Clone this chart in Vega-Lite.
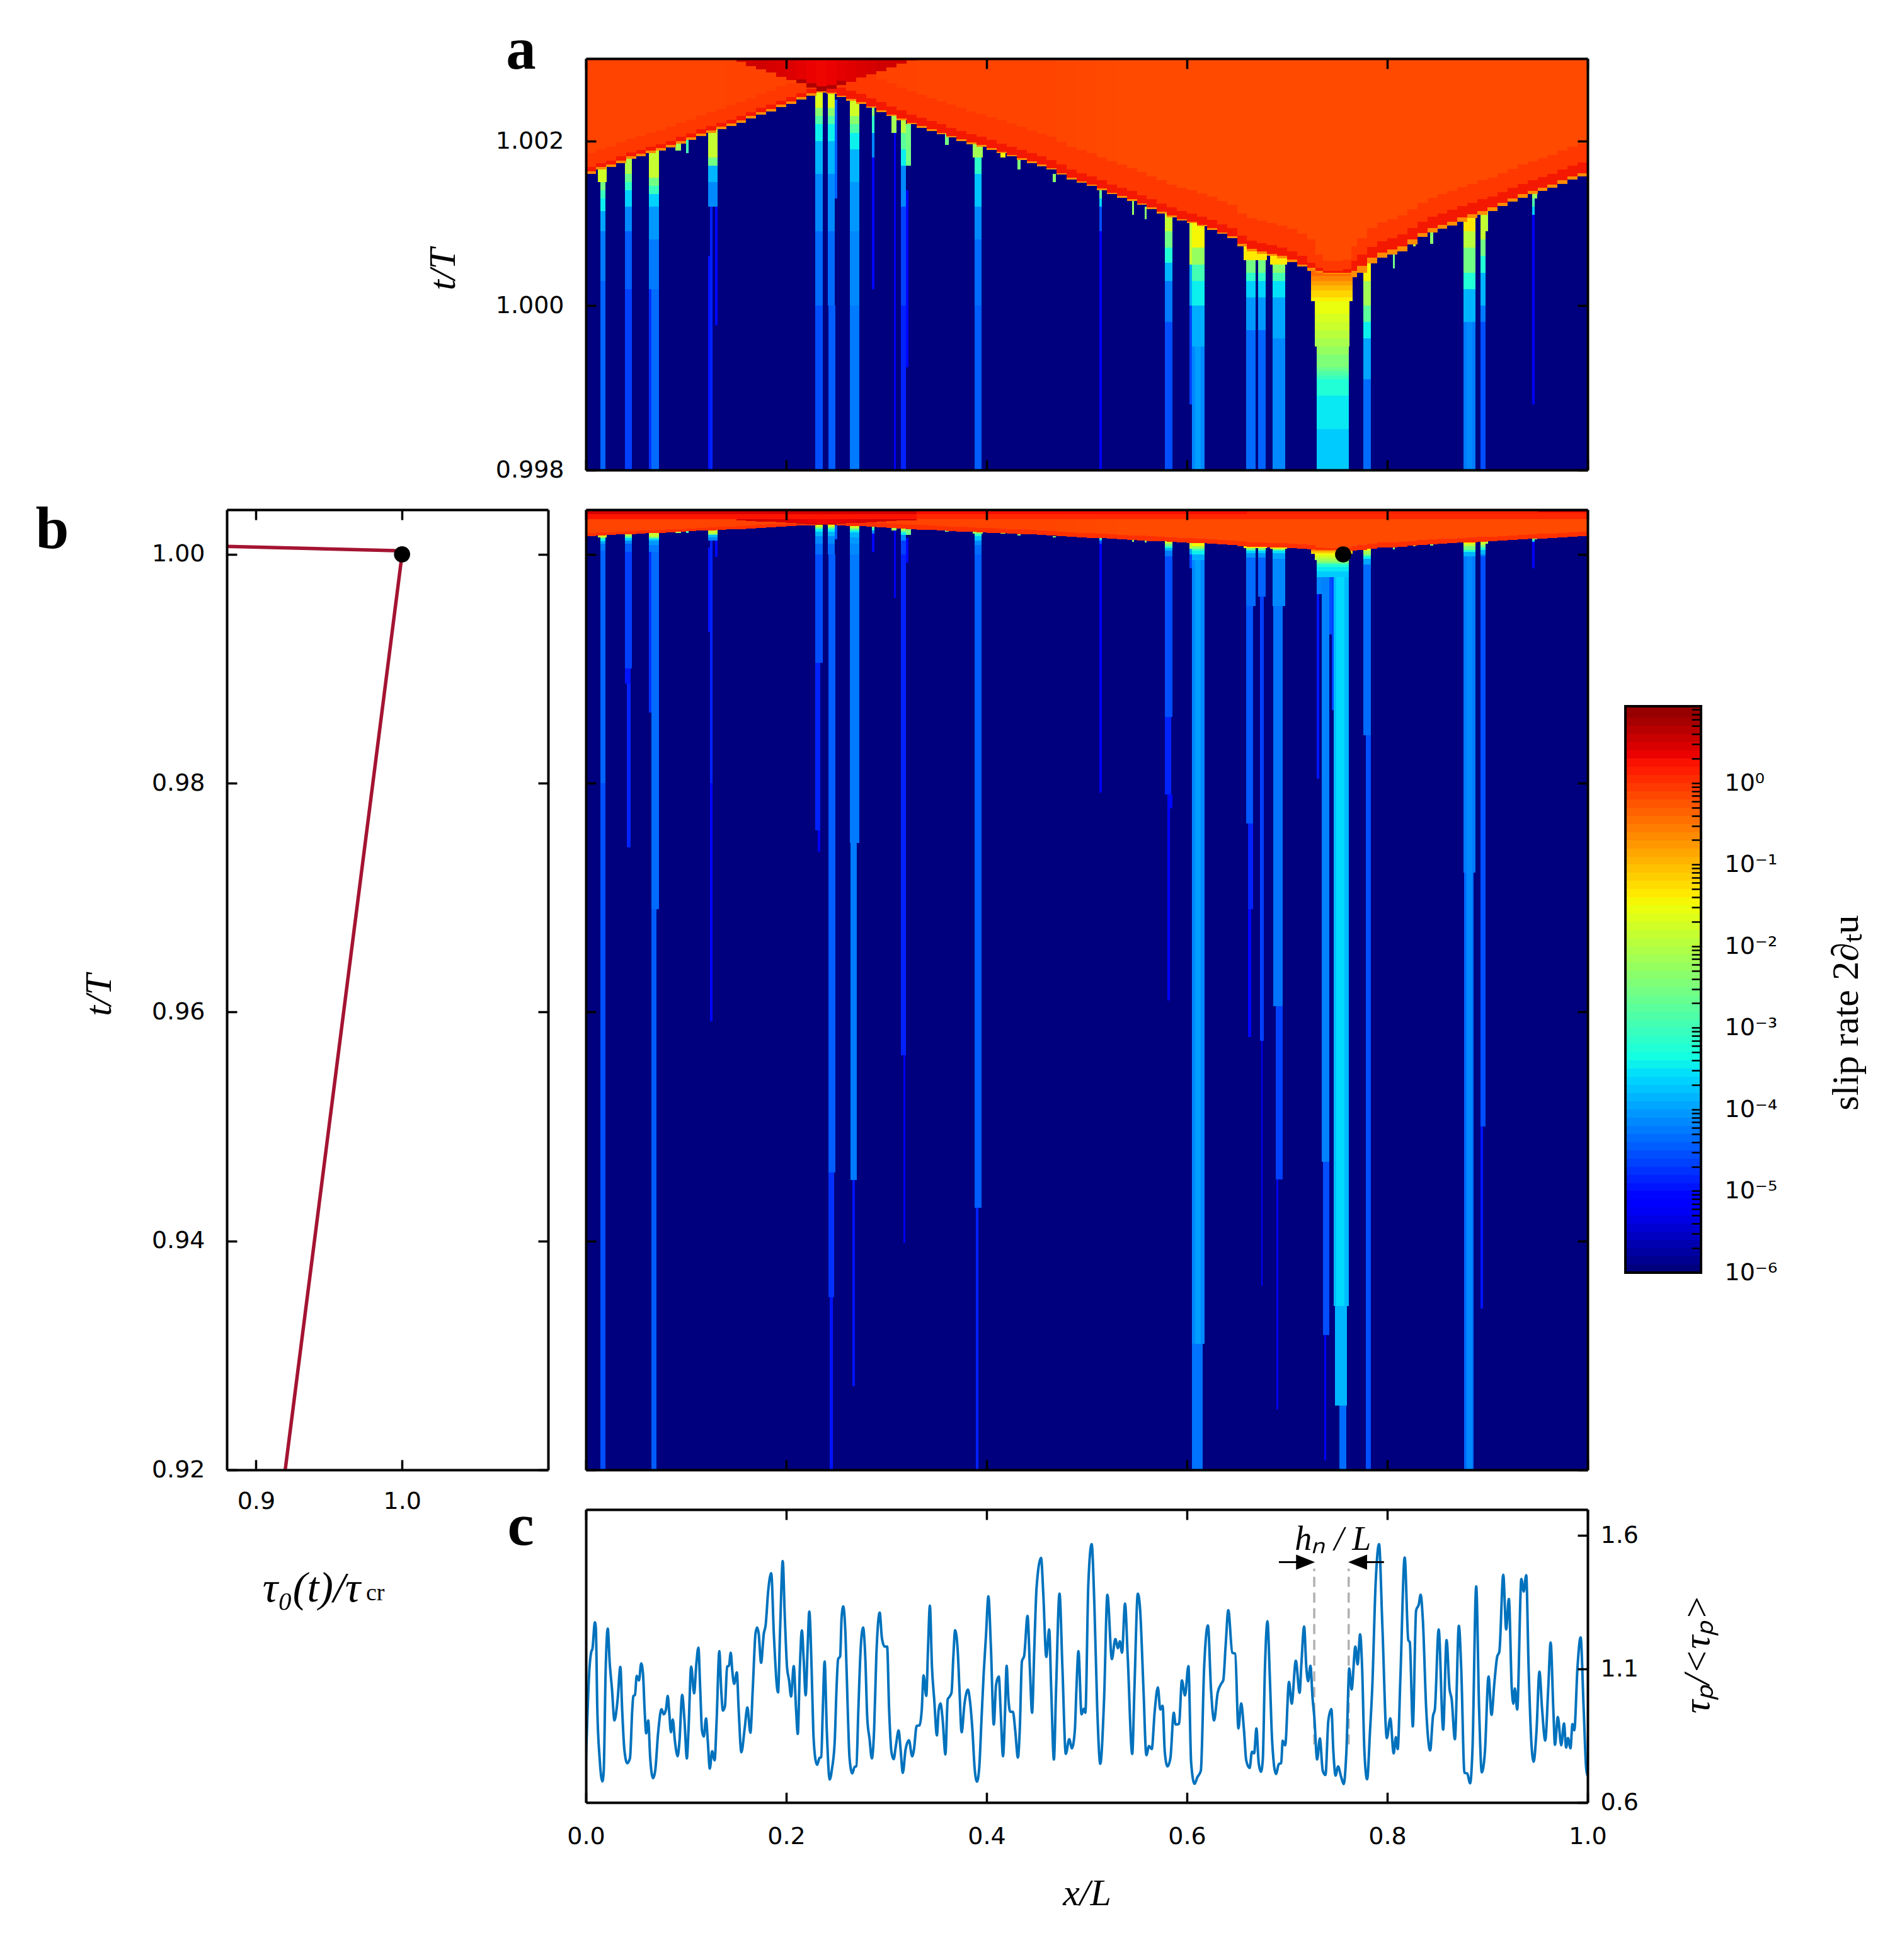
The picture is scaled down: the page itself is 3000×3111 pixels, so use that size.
{"$schema":"https://vega.github.io/schema/vega-lite/v6.json","padding":{"left":56,"top":33,"right":10,"bottom":10},"background":"white",
"config":{"view":{"stroke":null},"axis":{"grid":false,"domainColor":"black","domainWidth":4,"tickColor":"black","tickWidth":3.5,"tickSize":-16,"labelFont":"DejaVu Sans","labelFontSize":38,"labelColor":"black","labelOverlap":false,"labelFlush":false,"labelPadding":51,"titleFont":"Liberation Serif","titleFontSize":60,"titleFontWeight":"normal","titleColor":"black"}},
"datasets":{
"cells":[{"x":0,"x2":1,"t":0.92,"t2":1.0039,"v":-6},
{"x":0.0145,"x2":0.0195,"t":0.92,"t2":0.98,"v":-4.6},{"x":0.0145,"x2":0.0195,"t":0.98,"t2":1.0003,"v":-4.45},{"x":0.0145,"x2":0.0195,"t":1.0003,"t2":1.0009,"v":-4.3},{"x":0.0145,"x2":0.0195,"t":1.0009,"t2":1.00115,"v":-4},{"x":0.0145,"x2":0.0195,"t":1.00115,"t2":1.0013,"v":-3.5},{"x":0.0145,"x2":0.0195,"t":1.0013,"t2":1.0014,"v":-3.1},{"x":0.0145,"x2":0.0195,"t":1.0014,"t2":1.0015,"v":-2.6},{"x":0.0121,"x2":0.0209,"t":1.0015,"t2":1.0017,"v":-1.8},
{"x":0.041,"x2":0.0445,"t":0.9744,"t2":0.9887,"v":-4.9},{"x":0.039,"x2":0.0445,"t":0.9887,"t2":0.99,"v":-5},{"x":0.039,"x2":0.0458,"t":0.99,"t2":1.0002,"v":-4.7},{"x":0.039,"x2":0.0458,"t":1.0002,"t2":1.0009,"v":-4.5},{"x":0.039,"x2":0.0458,"t":1.0009,"t2":1.0012,"v":-4.2},{"x":0.039,"x2":0.0458,"t":1.0012,"t2":1.0014,"v":-3.7},{"x":0.039,"x2":0.0458,"t":1.0014,"t2":1.0015,"v":-3.2},{"x":0.039,"x2":0.0458,"t":1.0015,"t2":1.0016,"v":-2.7},{"x":0.039,"x2":0.0458,"t":1.0016,"t2":1.0019,"v":-2.1},
{"x":0.0653,"x2":0.0705,"t":0.92,"t2":0.969,"v":-4.5},{"x":0.0653,"x2":0.0731,"t":0.969,"t2":1.0002,"v":-4.4},{"x":0.063,"x2":0.0653,"t":0.9862,"t2":1.0002,"v":-4.8},{"x":0.063,"x2":0.0731,"t":1.0002,"t2":1.0008,"v":-4.3},{"x":0.063,"x2":0.0731,"t":1.0008,"t2":1.0012,"v":-4.1},{"x":0.063,"x2":0.0731,"t":1.0012,"t2":1.00135,"v":-3.7},{"x":0.063,"x2":0.0731,"t":1.00135,"t2":1.00145,"v":-3.1},{"x":0.063,"x2":0.0731,"t":1.00145,"t2":1.00155,"v":-2.6},{"x":0.063,"x2":0.0731,"t":1.00155,"t2":1.002,"v":-1.9},
{"x":0.089,"x2":0.095,"t":1.00188,"t2":1.002,"v":-2.2},{"x":0.1,"x2":0.1025,"t":1.00185,"t2":1.00205,"v":-3},
{"x":0.1241,"x2":0.1265,"t":0.9592,"t2":0.98,"v":-5.1},{"x":0.1241,"x2":0.1265,"t":0.98,"t2":1.0012,"v":-4.9},{"x":0.122,"x2":0.1241,"t":0.9932,"t2":1.0006,"v":-5},{"x":0.1291,"x2":0.1314,"t":0.99976,"t2":1.0012,"v":-5.1},{"x":0.122,"x2":0.1314,"t":1.0012,"t2":1.0015,"v":-4.2},{"x":0.122,"x2":0.1314,"t":1.0015,"t2":1.0017,"v":-3.9},{"x":0.122,"x2":0.1314,"t":1.0017,"t2":1.0018,"v":-2.6},{"x":0.122,"x2":0.1314,"t":1.0018,"t2":1.0022,"v":-1.9},
{"x":0.2315,"x2":0.2338,"t":0.974,"t2":0.9759,"v":-5.2},{"x":0.2288,"x2":0.2338,"t":0.9759,"t2":0.9905,"v":-4.9},{"x":0.2288,"x2":0.2365,"t":0.9905,"t2":1,"v":-4.6},{"x":0.2288,"x2":0.2365,"t":1,"t2":1.0009,"v":-4.4},{"x":0.2288,"x2":0.2365,"t":1.0009,"t2":1.0016,"v":-4.2},{"x":0.2288,"x2":0.2365,"t":1.0016,"t2":1.002,"v":-3.9},{"x":0.2288,"x2":0.2365,"t":1.002,"t2":1.0022,"v":-3.5},{"x":0.2288,"x2":0.2365,"t":1.0022,"t2":1.0023,"v":-2.9},{"x":0.2288,"x2":0.2365,"t":1.0023,"t2":1.0024,"v":-2.4},{"x":0.2288,"x2":0.2365,"t":1.0024,"t2":1.0027,"v":-1.7},
{"x":0.2435,"x2":0.2465,"t":0.92,"t2":0.9351,"v":-5},{"x":0.2424,"x2":0.248,"t":0.9351,"t2":0.946,"v":-4.8},{"x":0.2424,"x2":0.2489,"t":0.946,"t2":1,"v":-4.5},{"x":0.2416,"x2":0.2483,"t":1,"t2":1.0009,"v":-4.4},{"x":0.2483,"x2":0.251,"t":1.0013,"t2":1.0025,"v":-4.5},{"x":0.2416,"x2":0.2483,"t":1.0009,"t2":1.0016,"v":-4.2},{"x":0.2416,"x2":0.2483,"t":1.0016,"t2":1.002,"v":-3.9},{"x":0.2416,"x2":0.2483,"t":1.002,"t2":1.0022,"v":-3.5},{"x":0.2416,"x2":0.2483,"t":1.0022,"t2":1.0023,"v":-2.9},{"x":0.2416,"x2":0.2483,"t":1.0023,"t2":1.0024,"v":-2.4},{"x":0.2416,"x2":0.2483,"t":1.0024,"t2":1.0027,"v":-1.7},
{"x":0.266,"x2":0.2685,"t":0.9273,"t2":0.9453,"v":-5},{"x":0.264,"x2":0.2705,"t":0.9453,"t2":0.9748,"v":-4.3},{"x":0.2635,"x2":0.2729,"t":0.9748,"t2":1,"v":-4.3},{"x":0.2635,"x2":0.2729,"t":1,"t2":1.0009,"v":-4.2},{"x":0.2635,"x2":0.2729,"t":1.0009,"t2":1.0015,"v":-4.1},{"x":0.2635,"x2":0.2729,"t":1.0015,"t2":1.0019,"v":-3.9},{"x":0.2635,"x2":0.2729,"t":1.0019,"t2":1.0021,"v":-3.5},{"x":0.2635,"x2":0.2729,"t":1.0021,"t2":1.0022,"v":-2.9},{"x":0.2635,"x2":0.2729,"t":1.0022,"t2":1.0023,"v":-2.4},{"x":0.2635,"x2":0.2729,"t":1.0023,"t2":1.0026,"v":-1.8},
{"x":0.2854,"x2":0.2881,"t":1.0002,"t2":1.0018,"v":-5.1},{"x":0.2854,"x2":0.2881,"t":1.0018,"t2":1.0021,"v":-4.2},{"x":0.2854,"x2":0.2881,"t":1.0021,"t2":1.0023,"v":-3.2},{"x":0.2854,"x2":0.2881,"t":1.0023,"t2":1.0025,"v":-2.4},
{"x":0.3076,"x2":0.3093,"t":0.9962,"t2":1.0021,"v":-5.3},{"x":0.305,"x2":0.31,"t":1.0021,"t2":1.00235,"v":-2.2},
{"x":0.317,"x2":0.3186,"t":0.9398,"t2":0.9562,"v":-5.3},{"x":0.3143,"x2":0.3194,"t":0.9562,"t2":1,"v":-4.9},{"x":0.3143,"x2":0.3194,"t":1,"t2":1.0012,"v":-4.7},{"x":0.3143,"x2":0.3194,"t":1.0012,"t2":1.0017,"v":-4.2},{"x":0.3143,"x2":0.3194,"t":1.0017,"t2":1.0019,"v":-3.5},{"x":0.3143,"x2":0.3194,"t":1.0019,"t2":1.0021,"v":-2.8},{"x":0.3143,"x2":0.3194,"t":1.0021,"t2":1.0023,"v":-2},{"x":0.3194,"x2":0.322,"t":0.99925,"t2":1.0014,"v":-5.1},{"x":0.3194,"x2":0.3245,"t":1.0017,"t2":1.0022,"v":-2.6},
{"x":0.3585,"x2":0.362,"t":1.00195,"t2":1.0021,"v":-2.6},
{"x":0.389,"x2":0.392,"t":0.92,"t2":0.9429,"v":-4.9},{"x":0.3881,"x2":0.3949,"t":0.9429,"t2":1,"v":-4.5},{"x":0.3881,"x2":0.3949,"t":1,"t2":1.0008,"v":-4.4},{"x":0.3881,"x2":0.3949,"t":1.0008,"t2":1.0012,"v":-4.2},{"x":0.3881,"x2":0.3949,"t":1.0012,"t2":1.0016,"v":-3.8},{"x":0.3881,"x2":0.3949,"t":1.0016,"t2":1.0018,"v":-3.2},{"x":0.386,"x2":0.396,"t":1.0018,"t2":1.002,"v":-2.2},
{"x":0.414,"x2":0.419,"t":1.0018,"t2":1.0019,"v":-1.5},{"x":0.431,"x2":0.434,"t":1.00165,"t2":1.00178,"v":-2.5},{"x":0.466,"x2":0.469,"t":1.0015,"t2":1.0016,"v":-2.4},
{"x":0.5126,"x2":0.5149,"t":0.9792,"t2":1.0009,"v":-5.2},{"x":0.5126,"x2":0.5149,"t":1.0009,"t2":1.0012,"v":-4.6},{"x":0.5126,"x2":0.5149,"t":1.0012,"t2":1.0013,"v":-3.7},{"x":0.5126,"x2":0.5149,"t":1.0013,"t2":1.0014,"v":-2.7},
{"x":0.545,"x2":0.547,"t":1.0011,"t2":1.0013,"v":-2.3},{"x":0.558,"x2":0.56,"t":1.00105,"t2":1.0012,"v":-2.4},
{"x":0.5806,"x2":0.583,"t":0.961,"t2":0.9778,"v":-5.2},{"x":0.5806,"x2":0.5857,"t":0.9778,"t2":0.979,"v":-5.1},{"x":0.5779,"x2":0.584,"t":0.979,"t2":0.9858,"v":-4.9},{"x":0.5779,"x2":0.5857,"t":0.9858,"t2":0.9998,"v":-4.6},{"x":0.5779,"x2":0.5857,"t":0.9998,"t2":1.0003,"v":-4.3},{"x":0.5779,"x2":0.5857,"t":1.0003,"t2":1.00052,"v":-3.9},{"x":0.5779,"x2":0.5857,"t":1.00052,"t2":1.0007,"v":-3.3},{"x":0.5779,"x2":0.5857,"t":1.0007,"t2":1.0009,"v":-2.6},{"x":0.5779,"x2":0.5857,"t":1.0009,"t2":1.0012,"v":-1.9},
{"x":0.6048,"x2":0.6155,"t":0.92,"t2":0.931,"v":-4.35},{"x":0.6049,"x2":0.6173,"t":0.931,"t2":0.9995,"v":-4.2},{"x":0.608,"x2":0.614,"t":0.931,"t2":0.9995,"v":-4.05},{"x":0.6049,"x2":0.6177,"t":0.9995,"t2":1,"v":-3.95},{"x":0.6049,"x2":0.6177,"t":1,"t2":1.0003,"v":-3.5},{"x":0.6049,"x2":0.6177,"t":1.0003,"t2":1.0005,"v":-3},{"x":0.6049,"x2":0.6177,"t":1.0005,"t2":1.0007,"v":-2.3},{"x":0.6049,"x2":0.6177,"t":1.0007,"t2":1.0011,"v":-1.5},{"x":0.6025,"x2":0.6049,"t":0.9988,"t2":1,"v":-4.7},{"x":0.6025,"x2":0.6049,"t":1,"t2":1.0005,"v":-4},{"x":0.6025,"x2":0.6049,"t":1.0005,"t2":1.0011,"v":-1.9},
{"x":0.6611,"x2":0.664,"t":0.9578,"t2":0.969,"v":-5.1},{"x":0.6611,"x2":0.6662,"t":0.969,"t2":0.9765,"v":-4.9},{"x":0.6591,"x2":0.6662,"t":0.9765,"t2":0.9955,"v":-4.55},{"x":0.6591,"x2":0.6686,"t":0.9955,"t2":0.9997,"v":-4.4},{"x":0.6591,"x2":0.6686,"t":0.9997,"t2":1.0001,"v":-4.1},{"x":0.6591,"x2":0.6686,"t":1.0001,"t2":1.0003,"v":-3.7},{"x":0.6591,"x2":0.6686,"t":1.0003,"t2":1.0004,"v":-3.2},{"x":0.6591,"x2":0.6686,"t":1.0004,"t2":1.00055,"v":-2.6},{"x":0.6591,"x2":0.6686,"t":1.00055,"t2":1.0008,"v":-1.7},
{"x":0.674,"x2":0.6755,"t":0.9361,"t2":0.9575,"v":-5.2},{"x":0.6728,"x2":0.6767,"t":0.9575,"t2":0.9963,"v":-4.7},{"x":0.6709,"x2":0.6787,"t":0.9963,"t2":0.9997,"v":-4.45},{"x":0.6709,"x2":0.6787,"t":0.9997,"t2":1.0001,"v":-4.1},{"x":0.6709,"x2":0.6787,"t":1.0001,"t2":1.0003,"v":-3.7},{"x":0.6709,"x2":0.6787,"t":1.0003,"t2":1.0004,"v":-3.2},{"x":0.6709,"x2":0.6787,"t":1.0004,"t2":1.00055,"v":-2.6},{"x":0.6565,"x2":0.68,"t":1.00055,"t2":1.0008,"v":-1.4},
{"x":0.689,"x2":0.6915,"t":0.9253,"t2":0.9454,"v":-5.3},{"x":0.6885,"x2":0.6956,"t":0.9454,"t2":0.9605,"v":-4.7},{"x":0.686,"x2":0.6956,"t":0.9605,"t2":0.9955,"v":-4.35},{"x":0.6854,"x2":0.6982,"t":0.9955,"t2":0.9996,"v":-4.2},{"x":0.6854,"x2":0.6982,"t":0.9996,"t2":1.0001,"v":-4},{"x":0.6854,"x2":0.6982,"t":1.0001,"t2":1.0003,"v":-3.6},{"x":0.6854,"x2":0.6982,"t":1.0003,"t2":1.0004,"v":-3},{"x":0.6854,"x2":0.6982,"t":1.0004,"t2":1.0005,"v":-2.4},{"x":0.683,"x2":0.7,"t":1.0005,"t2":1.0008,"v":-1.4},
{"x":0.7522,"x2":0.7594,"t":0.92,"t2":0.9256,"v":-4.4},{"x":0.7475,"x2":0.76,"t":0.9256,"t2":0.9343,"v":-3.9},{"x":0.7464,"x2":0.7615,"t":0.9343,"t2":0.998,"v":-3.85},{"x":0.749,"x2":0.757,"t":0.9343,"t2":0.998,"v":-3.65},{"x":0.7372,"x2":0.739,"t":0.9208,"t2":0.9318,"v":-5.2},{"x":0.736,"x2":0.742,"t":0.9318,"t2":0.9469,"v":-4.6},{"x":0.7344,"x2":0.742,"t":0.9469,"t2":0.998,"v":-4.25},{"x":0.742,"x2":0.7445,"t":0.993,"t2":0.998,"v":-4.6},{"x":0.7445,"x2":0.7464,"t":0.9864,"t2":0.998,"v":-4.7},{"x":0.7296,"x2":0.7344,"t":0.9965,"t2":0.998,"v":-4.2},{"x":0.7296,"x2":0.732,"t":0.9804,"t2":0.9965,"v":-5},
{"x":0.7296,"x2":0.7615,"t":0.998,"t2":0.9985,"v":-3.75},{"x":0.7296,"x2":0.7615,"t":0.9985,"t2":0.9989,"v":-3.55},{"x":0.7296,"x2":0.7615,"t":0.9989,"t2":0.9991,"v":-3.3},{"x":0.7296,"x2":0.7615,"t":0.9991,"t2":0.99915,"v":-3.1},{"x":0.7296,"x2":0.7615,"t":0.99915,"t2":0.9992,"v":-2.9},{"x":0.7296,"x2":0.7615,"t":0.9992,"t2":0.99925,"v":-2.7},{"x":0.7296,"x2":0.7615,"t":0.99925,"t2":0.9994,"v":-2.5},{"x":0.7296,"x2":0.7615,"t":0.9994,"t2":0.9995,"v":-2.3},{"x":0.7275,"x2":0.7622,"t":0.9995,"t2":0.9996,"v":-2.15},{"x":0.7275,"x2":0.7622,"t":0.9996,"t2":0.9997,"v":-2},{"x":0.7275,"x2":0.7622,"t":0.9997,"t2":0.9998,"v":-1.85},{"x":0.7275,"x2":0.7622,"t":0.9998,"t2":0.9999,"v":-1.75},{"x":0.7275,"x2":0.7622,"t":0.9999,"t2":1.00005,"v":-1.6},{"x":0.7242,"x2":0.7656,"t":1.00005,"t2":1.0001,"v":-1.45},{"x":0.7242,"x2":0.7656,"t":1.0001,"t2":1.00018,"v":-1.25},{"x":0.7242,"x2":0.7656,"t":1.00018,"t2":1.00024,"v":-1.05},{"x":0.7242,"x2":0.7656,"t":1.00024,"t2":1.0003,"v":-0.85},{"x":0.7242,"x2":0.7656,"t":1.0003,"t2":1.00036,"v":-0.65},{"x":0.7242,"x2":0.7656,"t":1.00036,"t2":1.0005,"v":-0.45},
{"x":0.7785,"x2":0.7838,"t":0.92,"t2":0.9842,"v":-4.6},{"x":0.7761,"x2":0.7838,"t":0.9842,"t2":0.9991,"v":-4.4},{"x":0.7761,"x2":0.7838,"t":0.9991,"t2":0.9996,"v":-4},{"x":0.7761,"x2":0.7838,"t":0.9996,"t2":0.9998,"v":-3.5},{"x":0.7761,"x2":0.7838,"t":0.9998,"t2":1,"v":-2.8},{"x":0.7761,"x2":0.7838,"t":1,"t2":1.0003,"v":-2.2},{"x":0.7761,"x2":0.7838,"t":1.0003,"t2":1.0006,"v":-1.5},
{"x":0.8055,"x2":0.8075,"t":1.00045,"t2":1.0007,"v":-2.6},{"x":0.826,"x2":0.828,"t":1.00072,"t2":1.0009,"v":-2},{"x":0.8425,"x2":0.846,"t":1.00075,"t2":1.001,"v":-2.4},
{"x":0.8765,"x2":0.8862,"t":0.92,"t2":0.9722,"v":-4.4},{"x":0.8761,"x2":0.8879,"t":0.9722,"t2":0.9998,"v":-4.3},{"x":0.879,"x2":0.885,"t":0.92,"t2":0.9998,"v":-4.2},{"x":0.8761,"x2":0.8879,"t":0.9998,"t2":1.0002,"v":-3.9},{"x":0.8761,"x2":0.8879,"t":1.0002,"t2":1.0004,"v":-3.3},{"x":0.8761,"x2":0.8879,"t":1.0004,"t2":1.0007,"v":-2.6},{"x":0.8761,"x2":0.8879,"t":1.0007,"t2":1.0009,"v":-2},{"x":0.8761,"x2":0.8879,"t":1.0009,"t2":1.0012,"v":-1.4},
{"x":0.8929,"x2":0.8955,"t":0.9341,"t2":0.95,"v":-5},{"x":0.8929,"x2":0.8983,"t":0.95,"t2":0.9998,"v":-4.6},{"x":0.8929,"x2":0.8983,"t":0.9998,"t2":1,"v":-4.3},{"x":0.8929,"x2":0.8983,"t":1,"t2":1.0004,"v":-3.9},{"x":0.8929,"x2":0.8983,"t":1.0004,"t2":1.0006,"v":-3.3},{"x":0.8929,"x2":0.8983,"t":1.0006,"t2":1.0008,"v":-2.6},{"x":0.8929,"x2":0.8983,"t":1.0008,"t2":1.0012,"v":-1.9},{"x":0.8983,"x2":0.9005,"t":1.0009,"t2":1.0012,"v":-2},
{"x":0.9445,"x2":0.9472,"t":0.9988,"t2":1.0011,"v":-5.2},{"x":0.9445,"x2":0.9472,"t":1.0011,"t2":1.0012,"v":-3.7},{"x":0.9445,"x2":0.9472,"t":1.0012,"t2":1.0013,"v":-2.9},{"x":0.9445,"x2":0.9495,"t":1.0013,"t2":1.00145,"v":-2.3}],
"front":[{"x":0,"x2":0.01,"t":1.0016,"e":1.00163,"a":1.00168,"b":1.00185,"v":-0.17},{"x":0.01,"x2":0.02,"t":1.00165,"e":1.00168,"a":1.00173,"b":1.0019,"v":-0.17},{"x":0.02,"x2":0.03,"t":1.00168,"e":1.00171,"a":1.00176,"b":1.00193,"v":-0.17},{"x":0.03,"x2":0.04,"t":1.00173,"e":1.00176,"a":1.00181,"b":1.00198,"v":-0.17},{"x":0.04,"x2":0.05,"t":1.00178,"e":1.00181,"a":1.00186,"b":1.00203,"v":-0.17},{"x":0.05,"x2":0.06,"t":1.00181,"e":1.00184,"a":1.00189,"b":1.00206,"v":-0.17},{"x":0.06,"x2":0.07,"t":1.00185,"e":1.00188,"a":1.00193,"b":1.0021,"v":-0.17},{"x":0.07,"x2":0.08,"t":1.00188,"e":1.00191,"a":1.00196,"b":1.00213,"v":-0.17},{"x":0.08,"x2":0.09,"t":1.00192,"e":1.00195,"a":1.002,"b":1.00217,"v":-0.17},{"x":0.09,"x2":0.1,"t":1.00197,"e":1.002,"a":1.00205,"b":1.00222,"v":-0.17},{"x":0.1,"x2":0.11,"t":1.00201,"e":1.00204,"a":1.00209,"b":1.00226,"v":-0.17},{"x":0.11,"x2":0.12,"t":1.00206,"e":1.00209,"a":1.00214,"b":1.00231,"v":-0.17},{"x":0.12,"x2":0.13,"t":1.0021,"e":1.00213,"a":1.00218,"b":1.00235,"v":-0.17},{"x":0.13,"x2":0.14,"t":1.00214,"e":1.00217,"a":1.00222,"b":1.00239,"v":-0.17},{"x":0.14,"x2":0.15,"t":1.00218,"e":1.00221,"a":1.00226,"b":1.00243,"v":-0.16},{"x":0.15,"x2":0.16,"t":1.00222,"e":1.00225,"a":1.0023,"b":1.00247,"v":-0.16},{"x":0.16,"x2":0.17,"t":1.00227,"e":1.0023,"a":1.00235,"b":1.00252,"v":-0.16},{"x":0.17,"x2":0.18,"t":1.00232,"e":1.00235,"a":1.0024,"b":1.00257,"v":-0.16},{"x":0.18,"x2":0.19,"t":1.00236,"e":1.00239,"a":1.00244,"b":1.00261,"v":-0.16},{"x":0.19,"x2":0.2,"t":1.00241,"e":1.00244,"a":1.00249,"b":1.00266,"v":-0.16},{"x":0.2,"x2":0.21,"t":1.00245,"e":1.00248,"a":1.00253,"b":1.0027,"v":-0.16},{"x":0.21,"x2":0.22,"t":1.0025,"e":1.00253,"a":1.00258,"b":1.00275,"v":-0.16},{"x":0.22,"x2":0.23,"t":1.00255,"e":1.00258,"a":1.00263,"b":1.0028,"v":-0.16},{"x":0.23,"x2":0.24,"t":1.00259,"e":1.00262,"a":1.00267,"b":1.00284,"v":-0.16},{"x":0.24,"x2":0.25,"t":1.00257,"e":1.00259,"a":1.00269,"b":1.00297,"v":-0.16},{"x":0.25,"x2":0.26,"t":1.00253,"e":1.00255,"a":1.00265,"b":1.00293,"v":-0.16},{"x":0.26,"x2":0.27,"t":1.00249,"e":1.00251,"a":1.00261,"b":1.00289,"v":-0.16},{"x":0.27,"x2":0.28,"t":1.00245,"e":1.00247,"a":1.00257,"b":1.00285,"v":-0.16},{"x":0.28,"x2":0.29,"t":1.0024,"e":1.00242,"a":1.00252,"b":1.0028,"v":-0.16},{"x":0.29,"x2":0.3,"t":1.00235,"e":1.00237,"a":1.00247,"b":1.00275,"v":-0.16},{"x":0.3,"x2":0.31,"t":1.0023,"e":1.00232,"a":1.00242,"b":1.0027,"v":-0.16},{"x":0.31,"x2":0.32,"t":1.00225,"e":1.00227,"a":1.00237,"b":1.00265,"v":-0.16},{"x":0.32,"x2":0.33,"t":1.0022,"e":1.00222,"a":1.00232,"b":1.0026,"v":-0.16},{"x":0.33,"x2":0.34,"t":1.00216,"e":1.00218,"a":1.00228,"b":1.00256,"v":-0.18},{"x":0.34,"x2":0.35,"t":1.00212,"e":1.00214,"a":1.00224,"b":1.00252,"v":-0.18},{"x":0.35,"x2":0.36,"t":1.00208,"e":1.0021,"a":1.0022,"b":1.00248,"v":-0.18},{"x":0.36,"x2":0.37,"t":1.00204,"e":1.00206,"a":1.00216,"b":1.00244,"v":-0.18},{"x":0.37,"x2":0.38,"t":1.002,"e":1.00202,"a":1.00212,"b":1.0024,"v":-0.18},{"x":0.38,"x2":0.39,"t":1.00196,"e":1.00198,"a":1.00208,"b":1.00236,"v":-0.18},{"x":0.39,"x2":0.4,"t":1.00193,"e":1.00195,"a":1.00205,"b":1.00233,"v":-0.18},{"x":0.4,"x2":0.41,"t":1.00189,"e":1.00191,"a":1.00201,"b":1.00229,"v":-0.18},{"x":0.41,"x2":0.42,"t":1.00185,"e":1.00187,"a":1.00197,"b":1.00225,"v":-0.18},{"x":0.42,"x2":0.43,"t":1.00181,"e":1.00183,"a":1.00193,"b":1.00221,"v":-0.18},{"x":0.43,"x2":0.44,"t":1.00177,"e":1.00179,"a":1.00189,"b":1.00217,"v":-0.18},{"x":0.44,"x2":0.45,"t":1.00173,"e":1.00175,"a":1.00185,"b":1.00213,"v":-0.18},{"x":0.45,"x2":0.46,"t":1.00169,"e":1.00171,"a":1.00181,"b":1.00209,"v":-0.18},{"x":0.46,"x2":0.47,"t":1.00165,"e":1.00167,"a":1.00177,"b":1.00205,"v":-0.18},{"x":0.47,"x2":0.48,"t":1.00159,"e":1.00161,"a":1.00171,"b":1.00199,"v":-0.19},{"x":0.48,"x2":0.49,"t":1.00153,"e":1.00155,"a":1.00165,"b":1.00193,"v":-0.19},{"x":0.49,"x2":0.5,"t":1.00149,"e":1.00151,"a":1.00161,"b":1.00189,"v":-0.2},{"x":0.5,"x2":0.51,"t":1.00145,"e":1.00147,"a":1.00157,"b":1.00185,"v":-0.2},{"x":0.51,"x2":0.52,"t":1.0014,"e":1.00142,"a":1.00152,"b":1.0018,"v":-0.21},{"x":0.52,"x2":0.53,"t":1.00135,"e":1.00137,"a":1.00147,"b":1.00175,"v":-0.21},{"x":0.53,"x2":0.54,"t":1.00131,"e":1.00133,"a":1.00143,"b":1.00171,"v":-0.22},{"x":0.54,"x2":0.55,"t":1.00127,"e":1.00129,"a":1.00139,"b":1.00167,"v":-0.22},{"x":0.55,"x2":0.56,"t":1.00122,"e":1.00124,"a":1.00134,"b":1.00162,"v":-0.22},{"x":0.56,"x2":0.57,"t":1.00117,"e":1.00119,"a":1.00129,"b":1.00157,"v":-0.22},{"x":0.57,"x2":0.58,"t":1.00112,"e":1.00114,"a":1.00124,"b":1.00152,"v":-0.22},{"x":0.58,"x2":0.59,"t":1.00107,"e":1.00109,"a":1.00119,"b":1.00147,"v":-0.22},{"x":0.59,"x2":0.6,"t":1.00103,"e":1.00105,"a":1.00115,"b":1.00143,"v":-0.22},{"x":0.6,"x2":0.61,"t":1.001,"e":1.00102,"a":1.00112,"b":1.0014,"v":-0.22},{"x":0.61,"x2":0.62,"t":1.00096,"e":1.00098,"a":1.00108,"b":1.00136,"v":-0.22},{"x":0.62,"x2":0.63,"t":1.00092,"e":1.00094,"a":1.00104,"b":1.00132,"v":-0.22},{"x":0.63,"x2":0.64,"t":1.00087,"e":1.00089,"a":1.00099,"b":1.00127,"v":-0.22},{"x":0.64,"x2":0.65,"t":1.00082,"e":1.00084,"a":1.00094,"b":1.00122,"v":-0.22},{"x":0.65,"x2":0.66,"t":1.00072,"e":1.00075,"a":1.00085,"b":1.00112,"v":-0.22},{"x":0.66,"x2":0.67,"t":1.00066,"e":1.00069,"a":1.00079,"b":1.00106,"v":-0.22},{"x":0.67,"x2":0.68,"t":1.00063,"e":1.00066,"a":1.00076,"b":1.00103,"v":-0.22},{"x":0.68,"x2":0.69,"t":1.0006,"e":1.00063,"a":1.00073,"b":1.001,"v":-0.22},{"x":0.69,"x2":0.7,"t":1.00057,"e":1.0006,"a":1.0007,"b":1.00097,"v":-0.22},{"x":0.7,"x2":0.71,"t":1.00053,"e":1.00056,"a":1.00066,"b":1.00093,"v":-0.22},{"x":0.71,"x2":0.72,"t":1.00047,"e":1.0005,"a":1.0006,"b":1.00087,"v":-0.22},{"x":0.72,"x2":0.728,"t":1.00042,"e":1.00046,"a":1.00052,"b":1.0008,"v":-0.22},{"x":0.728,"x2":0.736,"t":1.0004,"e":1.00042,"a":1.00046,"b":1.00062,"v":-0.22},{"x":0.736,"x2":0.756,"t":1.00038,"e":1.0004,"a":1.00042,"b":1.00054,"v":-0.22},{"x":0.756,"x2":0.764,"t":1.00038,"e":1.0004,"a":1.00044,"b":1.00056,"v":-0.22},{"x":0.764,"x2":0.77,"t":1.00034,"e":1.00042,"a":1.00054,"b":1.00072,"v":-0.22},{"x":0.77,"x2":0.78,"t":1.0004,"e":1.00048,"a":1.00062,"b":1.00082,"v":-0.22},{"x":0.78,"x2":0.79,"t":1.00051,"e":1.00058,"a":1.00071,"b":1.00094,"v":-0.22},{"x":0.79,"x2":0.8,"t":1.00058,"e":1.00064,"a":1.00078,"b":1.00101,"v":-0.22},{"x":0.8,"x2":0.81,"t":1.00062,"e":1.00068,"a":1.00082,"b":1.00105,"v":-0.22},{"x":0.81,"x2":0.82,"t":1.00066,"e":1.00072,"a":1.00086,"b":1.00109,"v":-0.22},{"x":0.82,"x2":0.83,"t":1.00074,"e":1.0008,"a":1.00094,"b":1.00117,"v":-0.22},{"x":0.83,"x2":0.84,"t":1.00083,"e":1.00088,"a":1.00102,"b":1.00125,"v":-0.22},{"x":0.84,"x2":0.85,"t":1.00089,"e":1.00094,"a":1.00108,"b":1.00131,"v":-0.22},{"x":0.85,"x2":0.86,"t":1.00093,"e":1.00098,"a":1.00112,"b":1.00135,"v":-0.22},{"x":0.86,"x2":0.87,"t":1.00097,"e":1.00102,"a":1.00116,"b":1.00139,"v":-0.22},{"x":0.87,"x2":0.88,"t":1.00102,"e":1.00107,"a":1.00121,"b":1.00144,"v":-0.22},{"x":0.88,"x2":0.89,"t":1.00106,"e":1.00111,"a":1.00125,"b":1.00148,"v":-0.22},{"x":0.89,"x2":0.9,"t":1.0011,"e":1.00115,"a":1.00129,"b":1.00152,"v":-0.22},{"x":0.9,"x2":0.91,"t":1.00115,"e":1.00119,"a":1.00132,"b":1.00155,"v":-0.22},{"x":0.91,"x2":0.92,"t":1.00121,"e":1.00125,"a":1.00138,"b":1.00161,"v":-0.22},{"x":0.92,"x2":0.93,"t":1.00126,"e":1.0013,"a":1.00143,"b":1.00166,"v":-0.22},{"x":0.93,"x2":0.94,"t":1.00131,"e":1.00135,"a":1.00148,"b":1.00171,"v":-0.22},{"x":0.94,"x2":0.95,"t":1.00135,"e":1.00139,"a":1.00152,"b":1.00175,"v":-0.22},{"x":0.95,"x2":0.96,"t":1.00139,"e":1.00143,"a":1.00156,"b":1.00179,"v":-0.22},{"x":0.96,"x2":0.97,"t":1.00143,"e":1.00147,"a":1.0016,"b":1.00183,"v":-0.22},{"x":0.97,"x2":0.98,"t":1.00148,"e":1.00152,"a":1.00165,"b":1.00188,"v":-0.22},{"x":0.98,"x2":0.99,"t":1.00153,"e":1.00157,"a":1.0017,"b":1.00193,"v":-0.22},{"x":0.99,"x2":1,"t":1.00157,"e":1.00161,"a":1.00174,"b":1.00197,"v":-0.22}],
"over":[{"x":0.15,"x2":0.16,"t":1.00296,"t2":1.0031,"v":0.45},{"x":0.16,"x2":0.17,"t":1.00291,"t2":1.0031,"v":0.45},{"x":0.17,"x2":0.18,"t":1.00287,"t2":1.0031,"v":0.45},{"x":0.18,"x2":0.19,"t":1.00283,"t2":1.0031,"v":0.42},{"x":0.19,"x2":0.2,"t":1.00278,"t2":1.0031,"v":0.4},{"x":0.2,"x2":0.21,"t":1.00274,"t2":1.0031,"v":0.38},{"x":0.21,"x2":0.22,"t":1.0027,"t2":1.0031,"v":0.33},{"x":0.22,"x2":0.23,"t":1.00265,"t2":1.0031,"v":0.3},{"x":0.23,"x2":0.24,"t":1.0026,"t2":1.0031,"v":0.28},{"x":0.24,"x2":0.25,"t":1.00263,"t2":1.0031,"v":0.3},{"x":0.25,"x2":0.26,"t":1.00268,"t2":1.0031,"v":0.33},{"x":0.26,"x2":0.27,"t":1.00272,"t2":1.0031,"v":0.36},{"x":0.27,"x2":0.28,"t":1.00277,"t2":1.0031,"v":0.4},{"x":0.28,"x2":0.29,"t":1.00281,"t2":1.0031,"v":0.42},{"x":0.29,"x2":0.3,"t":1.00285,"t2":1.0031,"v":0.45},{"x":0.3,"x2":0.31,"t":1.00289,"t2":1.0031,"v":0.45},{"x":0.31,"x2":0.32,"t":1.00294,"t2":1.0031,"v":0.45},{"x":0.32,"x2":0.33,"t":1.00298,"t2":1.0031,"v":0.45},
{"x":0.21,"x2":0.22,"t":1.0027,"t2":1.00275,"v":0.65},{"x":0.22,"x2":0.23,"t":1.00265,"t2":1.0027,"v":0.65},{"x":0.23,"x2":0.24,"t":1.0026,"t2":1.00266,"v":0.7},{"x":0.24,"x2":0.25,"t":1.00263,"t2":1.00268,"v":0.65},{"x":0.25,"x2":0.26,"t":1.00268,"t2":1.00273,"v":0.6},
{"x":0,"x2":0.33,"t":1.0035,"t2":1.0039,"v":0.42},{"x":0.33,"x2":0.66,"t":1.0035,"t2":1.0039,"v":0.22},{"x":0.66,"x2":1,"t":1.0035,"t2":1.0039,"v":0.08},{"x":0,"x2":0.33,"t":1.0031,"t2":1.0035,"v":0.18},{"x":0.33,"x2":1,"t":1.00305,"t2":1.0035,"v":0.03},{"x":0.95,"x2":1,"t":1.0037,"t2":1.0039,"v":0.42}],
"tau":[{"x":0,"v":0.75},{"x":0.0036,"v":1.106},{"x":0.0054,"v":1.165},{"x":0.0065,"v":1.175},{"x":0.009,"v":1.275},{"x":0.0099,"v":1.255},{"x":0.0114,"v":0.948},{"x":0.0137,"v":0.766},{"x":0.0164,"v":0.679},{"x":0.0177,"v":0.711},{"x":0.0198,"v":1.106},{"x":0.0218,"v":1.251},{"x":0.0238,"v":1.121},{"x":0.026,"v":1.027},{"x":0.0285,"v":0.907},{"x":0.0317,"v":0.987},{"x":0.0344,"v":1.108},{"x":0.0362,"v":0.948},{"x":0.0384,"v":0.798},{"x":0.0413,"v":0.747},{"x":0.044,"v":0.766},{"x":0.0463,"v":0.948},{"x":0.0474,"v":0.999},{"x":0.049,"v":1.003},{"x":0.0507,"v":1.074},{"x":0.053,"v":1.057},{"x":0.0552,"v":1.121},{"x":0.057,"v":1.082},{"x":0.0586,"v":0.948},{"x":0.0602,"v":0.859},{"x":0.0622,"v":0.907},{"x":0.0642,"v":0.766},{"x":0.0671,"v":0.691},{"x":0.0692,"v":0.719},{"x":0.0721,"v":0.861},{"x":0.0755,"v":0.949},{"x":0.0777,"v":0.93},{"x":0.0799,"v":0.948},{"x":0.0817,"v":0.999},{"x":0.0833,"v":0.932},{"x":0.0849,"v":0.863},{"x":0.0867,"v":0.911},{"x":0.0889,"v":0.829},{"x":0.0916,"v":0.773},{"x":0.0934,"v":0.829},{"x":0.0961,"v":1.003},{"x":0.0984,"v":0.908},{"x":0.1008,"v":0.765},{"x":0.1024,"v":0.869},{"x":0.1051,"v":1.109},{"x":0.108,"v":1.009},{"x":0.1103,"v":1.121},{"x":0.1123,"v":1.18},{"x":0.1141,"v":1.027},{"x":0.1159,"v":0.869},{"x":0.1177,"v":0.847},{"x":0.1199,"v":0.915},{"x":0.1217,"v":0.829},{"x":0.1237,"v":0.727},{"x":0.126,"v":0.792},{"x":0.1285,"v":0.758},{"x":0.1305,"v":0.908},{"x":0.1332,"v":1.167},{"x":0.135,"v":1.027},{"x":0.1368,"v":0.944},{"x":0.1388,"v":0.96},{"x":0.141,"v":1.109},{"x":0.1428,"v":1.112},{"x":0.1446,"v":1.161},{"x":0.1462,"v":1.09},{"x":0.148,"v":1.044},{"x":0.1507,"v":1.087},{"x":0.1525,"v":0.948},{"x":0.1552,"v":0.788},{"x":0.1585,"v":0.877},{"x":0.1612,"v":0.956},{"x":0.1642,"v":0.861},{"x":0.1666,"v":1.027},{"x":0.1693,"v":1.232},{"x":0.1709,"v":1.255},{"x":0.1725,"v":1.232},{"x":0.1749,"v":1.123},{"x":0.1776,"v":1.232},{"x":0.1794,"v":1.263},{"x":0.1821,"v":1.397},{"x":0.185,"v":1.459},{"x":0.1877,"v":1.224},{"x":0.1918,"v":1.012},{"x":0.194,"v":1.263},{"x":0.1965,"v":1.504},{"x":0.1985,"v":1.303},{"x":0.2008,"v":1.106},{"x":0.2028,"v":1.058},{"x":0.2048,"v":0.997},{"x":0.2075,"v":1.111},{"x":0.2098,"v":0.948},{"x":0.2115,"v":0.857},{"x":0.2136,"v":1.106},{"x":0.2156,"v":1.244},{"x":0.2174,"v":1.137},{"x":0.2194,"v":1.001},{"x":0.2214,"v":1.184},{"x":0.223,"v":1.315},{"x":0.2253,"v":1.106},{"x":0.227,"v":0.869},{"x":0.2293,"v":0.758},{"x":0.2309,"v":0.741},{"x":0.2331,"v":0.766},{"x":0.2349,"v":0.77},{"x":0.2365,"v":0.948},{"x":0.2383,"v":1.128},{"x":0.2405,"v":0.869},{"x":0.2434,"v":0.686},{"x":0.2457,"v":0.727},{"x":0.2484,"v":0.829},{"x":0.2502,"v":1.027},{"x":0.2518,"v":1.137},{"x":0.2538,"v":1.147},{"x":0.2553,"v":1.295},{"x":0.2569,"v":1.334},{"x":0.2592,"v":1.224},{"x":0.2614,"v":0.948},{"x":0.2632,"v":0.766},{"x":0.2659,"v":0.709},{"x":0.2682,"v":0.733},{"x":0.27,"v":0.736},{"x":0.272,"v":0.948},{"x":0.2742,"v":1.169},{"x":0.2767,"v":1.255},{"x":0.2789,"v":1.145},{"x":0.2809,"v":0.915},{"x":0.2832,"v":0.837},{"x":0.2854,"v":0.765},{"x":0.2877,"v":0.869},{"x":0.2899,"v":1.145},{"x":0.2933,"v":1.311},{"x":0.2955,"v":1.216},{"x":0.2982,"v":1.184},{"x":0.3007,"v":1.184},{"x":0.3027,"v":0.948},{"x":0.305,"v":0.79},{"x":0.3072,"v":0.762},{"x":0.3095,"v":0.814},{"x":0.3122,"v":0.87},{"x":0.314,"v":0.806},{"x":0.3164,"v":0.711},{"x":0.3191,"v":0.798},{"x":0.3225,"v":0.833},{"x":0.3257,"v":0.773},{"x":0.3275,"v":0.798},{"x":0.3302,"v":0.887},{"x":0.3331,"v":0.889},{"x":0.3353,"v":0.948},{"x":0.3371,"v":1.076},{"x":0.3398,"v":0.999},{"x":0.3416,"v":1.184},{"x":0.3434,"v":1.337},{"x":0.3455,"v":1.106},{"x":0.3477,"v":0.987},{"x":0.3504,"v":0.851},{"x":0.3522,"v":0.948},{"x":0.354,"v":0.971},{"x":0.3562,"v":0.908},{"x":0.3589,"v":0.78},{"x":0.3612,"v":0.987},{"x":0.3628,"v":0.995},{"x":0.365,"v":1.011},{"x":0.3668,"v":1.145},{"x":0.3686,"v":1.245},{"x":0.3713,"v":1.161},{"x":0.3729,"v":1.027},{"x":0.3751,"v":0.863},{"x":0.378,"v":0.971},{"x":0.3814,"v":1.023},{"x":0.3832,"v":0.987},{"x":0.3859,"v":0.869},{"x":0.3881,"v":0.727},{"x":0.3904,"v":0.678},{"x":0.3926,"v":0.727},{"x":0.3949,"v":0.908},{"x":0.3971,"v":1.082},{"x":0.3994,"v":1.224},{"x":0.4018,"v":1.372},{"x":0.4043,"v":1.184},{"x":0.4072,"v":0.892},{"x":0.4095,"v":1.042},{"x":0.4122,"v":1.072},{"x":0.414,"v":0.948},{"x":0.4164,"v":0.773},{"x":0.4185,"v":0.948},{"x":0.42,"v":1.112},{"x":0.4218,"v":0.987},{"x":0.4236,"v":0.94},{"x":0.4263,"v":0.94},{"x":0.4286,"v":0.869},{"x":0.4313,"v":0.768},{"x":0.4331,"v":0.869},{"x":0.4353,"v":1.129},{"x":0.4375,"v":1.149},{"x":0.4409,"v":1.299},{"x":0.4432,"v":1.106},{"x":0.4454,"v":0.936},{"x":0.4477,"v":1.184},{"x":0.4499,"v":1.405},{"x":0.4544,"v":1.516},{"x":0.4566,"v":1.382},{"x":0.4596,"v":1.145},{"x":0.4625,"v":1.248},{"x":0.4645,"v":1.027},{"x":0.4672,"v":0.761},{"x":0.4694,"v":1.027},{"x":0.4728,"v":1.382},{"x":0.4757,"v":1.106},{"x":0.4791,"v":0.782},{"x":0.4825,"v":0.837},{"x":0.4852,"v":0.803},{"x":0.4881,"v":0.869},{"x":0.4897,"v":1.027},{"x":0.4917,"v":1.167},{"x":0.4948,"v":0.93},{"x":0.4971,"v":0.951},{"x":0.4986,"v":0.936},{"x":0.5016,"v":1.421},{"x":0.5049,"v":1.567},{"x":0.5076,"v":1.342},{"x":0.5105,"v":0.948},{"x":0.5135,"v":0.745},{"x":0.5173,"v":0.987},{"x":0.5206,"v":1.378},{"x":0.5251,"v":1.137},{"x":0.5285,"v":1.212},{"x":0.5312,"v":1.178},{"x":0.533,"v":1.204},{"x":0.5352,"v":1.161},{"x":0.5382,"v":1.345},{"x":0.5409,"v":1.145},{"x":0.5454,"v":0.782},{"x":0.5476,"v":1.027},{"x":0.551,"v":1.382},{"x":0.5532,"v":1.327},{"x":0.5566,"v":1.027},{"x":0.5595,"v":0.777},{"x":0.5622,"v":0.812},{"x":0.5649,"v":0.8},{"x":0.5678,"v":0.94},{"x":0.571,"v":1.031},{"x":0.5734,"v":0.948},{"x":0.5757,"v":0.962},{"x":0.5779,"v":0.79},{"x":0.5806,"v":0.735},{"x":0.5835,"v":0.766},{"x":0.5869,"v":0.936},{"x":0.5887,"v":0.892},{"x":0.5921,"v":0.894},{"x":0.595,"v":1.057},{"x":0.5981,"v":1.001},{"x":0.6015,"v":1.111},{"x":0.6042,"v":0.75},{"x":0.6076,"v":0.67},{"x":0.6105,"v":0.695},{"x":0.6139,"v":0.719},{"x":0.6172,"v":1.106},{"x":0.621,"v":1.263},{"x":0.624,"v":1.027},{"x":0.6271,"v":0.907},{"x":0.6307,"v":1.011},{"x":0.6341,"v":1.044},{"x":0.6363,"v":1.058},{"x":0.6386,"v":1.184},{"x":0.6413,"v":1.32},{"x":0.6453,"v":1.161},{"x":0.6482,"v":1.157},{"x":0.6514,"v":0.877},{"x":0.6541,"v":0.971},{"x":0.657,"v":0.869},{"x":0.6592,"v":0.758},{"x":0.6626,"v":0.729},{"x":0.6649,"v":0.79},{"x":0.6671,"v":0.784},{"x":0.6694,"v":0.877},{"x":0.6716,"v":0.75},{"x":0.6739,"v":0.715},{"x":0.6757,"v":0.758},{"x":0.6779,"v":1.106},{"x":0.6804,"v":1.279},{"x":0.6828,"v":1.066},{"x":0.6851,"v":0.829},{"x":0.6889,"v":0.707},{"x":0.6918,"v":0.744},{"x":0.6941,"v":0.747},{"x":0.6956,"v":0.831},{"x":0.6981,"v":0.814},{"x":0.7019,"v":1.052},{"x":0.7046,"v":0.97},{"x":0.7087,"v":1.131},{"x":0.7125,"v":1.011},{"x":0.7143,"v":1.121},{"x":0.717,"v":1.259},{"x":0.7192,"v":1.106},{"x":0.721,"v":1.054},{"x":0.7233,"v":1.112},{"x":0.7255,"v":0.987},{"x":0.7271,"v":0.924},{"x":0.73,"v":0.761},{"x":0.7327,"v":0.84},{"x":0.7356,"v":0.719},{"x":0.7383,"v":0.703},{"x":0.7412,"v":0.908},{"x":0.7442,"v":0.95},{"x":0.7462,"v":0.79},{"x":0.7484,"v":0.701},{"x":0.7509,"v":0.735},{"x":0.754,"v":0.695},{"x":0.7565,"v":0.669},{"x":0.7592,"v":0.79},{"x":0.7621,"v":1.102},{"x":0.7644,"v":1.023},{"x":0.7682,"v":1.184},{"x":0.7704,"v":1.117},{"x":0.7729,"v":1.23},{"x":0.7749,"v":1.106},{"x":0.7772,"v":0.79},{"x":0.7799,"v":0.687},{"x":0.7828,"v":0.869},{"x":0.785,"v":1.027},{"x":0.7884,"v":1.421},{"x":0.7918,"v":1.567},{"x":0.7951,"v":1.263},{"x":0.7996,"v":0.841},{"x":0.803,"v":0.915},{"x":0.8064,"v":0.784},{"x":0.8086,"v":0.845},{"x":0.8104,"v":0.8},{"x":0.8131,"v":1.066},{"x":0.8174,"v":1.517},{"x":0.821,"v":1.208},{"x":0.8225,"v":1.2},{"x":0.8255,"v":0.885},{"x":0.8288,"v":1.319},{"x":0.8315,"v":1.342},{"x":0.8333,"v":1.378},{"x":0.8356,"v":1.279},{"x":0.8389,"v":0.948},{"x":0.8428,"v":0.795},{"x":0.8457,"v":0.924},{"x":0.8475,"v":0.948},{"x":0.8513,"v":1.248},{"x":0.8558,"v":0.873},{"x":0.8592,"v":1.208},{"x":0.8621,"v":1.027},{"x":0.8643,"v":0.987},{"x":0.8675,"v":0.837},{"x":0.8715,"v":1.262},{"x":0.8738,"v":1.106},{"x":0.8771,"v":0.711},{"x":0.8798,"v":0.709},{"x":0.8827,"v":0.672},{"x":0.885,"v":0.79},{"x":0.8888,"v":1.409},{"x":0.8917,"v":0.948},{"x":0.8944,"v":0.713},{"x":0.8975,"v":0.79},{"x":0.9011,"v":1.072},{"x":0.9041,"v":0.928},{"x":0.9068,"v":1.042},{"x":0.9097,"v":1.145},{"x":0.9119,"v":1.165},{"x":0.9158,"v":1.453},{"x":0.9187,"v":1.248},{"x":0.9214,"v":1.362},{"x":0.9243,"v":1.027},{"x":0.9259,"v":0.97},{"x":0.9274,"v":1.027},{"x":0.9297,"v":0.948},{"x":0.9339,"v":1.437},{"x":0.9362,"v":1.39},{"x":0.9387,"v":1.451},{"x":0.9411,"v":1.106},{"x":0.9438,"v":0.829},{"x":0.9461,"v":0.753},{"x":0.949,"v":0.869},{"x":0.9519,"v":1.09},{"x":0.9546,"v":0.948},{"x":0.9577,"v":0.832},{"x":0.9607,"v":1.027},{"x":0.9631,"v":1.199},{"x":0.9658,"v":0.948},{"x":0.9674,"v":0.816},{"x":0.9703,"v":0.92},{"x":0.9737,"v":0.814},{"x":0.9764,"v":0.896},{"x":0.9786,"v":0.806},{"x":0.9804,"v":0.841},{"x":0.9829,"v":0.803},{"x":0.9849,"v":0.894},{"x":0.9867,"v":0.87},{"x":0.9899,"v":1.106},{"x":0.993,"v":1.218},{"x":0.9961,"v":0.948},{"x":0.9986,"v":0.727},{"x":1,"v":0.7}],
"cbar":[{"l":-6,"h":-5.9},{"l":-5.9,"h":-5.8},{"l":-5.8,"h":-5.7},{"l":-5.7,"h":-5.6},{"l":-5.6,"h":-5.5},{"l":-5.5,"h":-5.4},{"l":-5.4,"h":-5.3},{"l":-5.3,"h":-5.2},{"l":-5.2,"h":-5.1},{"l":-5.1,"h":-5},{"l":-5,"h":-4.9},{"l":-4.9,"h":-4.8},{"l":-4.8,"h":-4.7},{"l":-4.7,"h":-4.6},{"l":-4.6,"h":-4.5},{"l":-4.5,"h":-4.4},{"l":-4.4,"h":-4.3},{"l":-4.3,"h":-4.2},{"l":-4.2,"h":-4.1},{"l":-4.1,"h":-4},{"l":-4,"h":-3.9},{"l":-3.9,"h":-3.8},{"l":-3.8,"h":-3.7},{"l":-3.7,"h":-3.6},{"l":-3.6,"h":-3.5},{"l":-3.5,"h":-3.4},{"l":-3.4,"h":-3.3},{"l":-3.3,"h":-3.2},{"l":-3.2,"h":-3.1},{"l":-3.1,"h":-3},{"l":-3,"h":-2.9},{"l":-2.9,"h":-2.8},{"l":-2.8,"h":-2.7},{"l":-2.7,"h":-2.6},{"l":-2.6,"h":-2.5},{"l":-2.5,"h":-2.4},{"l":-2.4,"h":-2.3},{"l":-2.3,"h":-2.2},{"l":-2.2,"h":-2.1},{"l":-2.1,"h":-2},{"l":-2,"h":-1.9},{"l":-1.9,"h":-1.8},{"l":-1.8,"h":-1.7},{"l":-1.7,"h":-1.6},{"l":-1.6,"h":-1.5},{"l":-1.5,"h":-1.4},{"l":-1.4,"h":-1.3},{"l":-1.3,"h":-1.2},{"l":-1.2,"h":-1.1},{"l":-1.1,"h":-1},{"l":-1,"h":-0.9},{"l":-0.9,"h":-0.8},{"l":-0.8,"h":-0.7},{"l":-0.7,"h":-0.6},{"l":-0.6,"h":-0.5},{"l":-0.5,"h":-0.4},{"l":-0.4,"h":-0.3},{"l":-0.3,"h":-0.2},{"l":-0.2,"h":-0.1},{"l":-0.1,"h":0},{"l":0,"h":0.1},{"l":0.1,"h":0.2},{"l":0.2,"h":0.3},{"l":0.3,"h":0.4},{"l":0.4,"h":0.5},{"l":0.5,"h":0.6},{"l":0.6,"h":0.7},{"l":0.7,"h":0.8},{"l":0.8,"h":0.94}]
},
"bounds":"flush","align":"each","columns":3,"spacing":{"row":63,"column":60},
"concat":[
{"width":510,"height":653,"data":{"values":[]},"mark":"point","encoding":{}},
{"width":1590,"height":653,
"encoding":{"x":{"field":"x","type":"quantitative","scale":{"domain":[0,1],"round":true},"axis":null},"x2":{"field":"x2"},"y":{"field":"t","type":"quantitative","scale":{"domain":[0.998,1.003],"round":true},"axis":null},"color":{"field":"v","type":"quantitative","legend":null,"scale":{"interpolate":"rgb","domain":[-6,-5.237,-5.133,-3.64,-3.4,-1.558,-1.42,0.177,0.315,0.94],"range":["#00007f","#0000ff","#0000ff","#00dbff","#14ffe2","#eeff08","#ffec00","#ff1400","#e80000","#7f0000"]}}},
"layer":[
{"data":{"name":"cells"},"mark":{"type":"rect","clip":true},"encoding":{"y2":{"field":"t2"},
"x":{"field":"x","type":"quantitative","scale":{"domain":[0,1],"round":true},"axis":{"orient":"bottom","values":[0,0.2,0.4,0.6,0.8,1],"labels":false,"title":null,"zindex":1}},
"y":{"field":"t","type":"quantitative","scale":{"domain":[0.998,1.003],"round":true},"axis":{"orient":"left","values":[0.998,1,1.002],"format":".3f","title":"t/T","titleFontStyle":"italic","titlePadding":52,"titleY":334,"zindex":1}}}},
{"data":{"name":"front"},"mark":{"type":"rect","clip":true},"encoding":{"y2":{"datum":1.0039}}},
{"data":{"name":"front"},"mark":{"type":"rect","clip":true},"encoding":{"y2":{"field":"b"},"color":{"value":"#ff3800"}}},
{"data":{"name":"front"},"mark":{"type":"rect","clip":true},"encoding":{"y2":{"field":"a"},"color":{"value":"#f51800"}}},
{"data":{"name":"front"},"mark":{"type":"rect","clip":true},"encoding":{"y2":{"field":"e"},"color":{"value":"#ff8c00"}}},
{"data":{"name":"over"},"mark":{"type":"rect","clip":true},"encoding":{"y2":{"field":"t2"},
"x":{"field":"x","type":"quantitative","scale":{"domain":[0,1],"round":true},"axis":{"orient":"top","values":[0,0.2,0.4,0.6,0.8,1],"labels":false,"title":null,"zindex":1}},
"y":{"field":"t","type":"quantitative","scale":{"domain":[0.998,1.003],"round":true},"axis":{"orient":"right","values":[0.998,1,1.002],"labels":false,"title":null,"zindex":1}}}},
{"data":{"values":[{"x":-0.065,"t":1.00288,"s":"a"}]},"mark":{"type":"text","font":"Liberation Serif","fontWeight":"bold","fontSize":95,"baseline":"alphabetic","align":"center"},"encoding":{"text":{"field":"s"},"color":{"value":"black"}}}
],"resolve":{"axis":{"x":"independent","y":"independent"}}},
{"width":120,"height":653,"data":{"values":[]},"mark":"point","encoding":{}},
{"width":510,"height":1524,
"encoding":{"x":{"field":"tau","type":"quantitative","scale":{"domain":[0.88,1.1]},"axis":null},"y":{"field":"t","type":"quantitative","scale":{"domain":[0.92,1.0039]},"axis":null}},
"layer":[
{"data":{"values":[{"i":1,"tau":0.88,"t":1.0007},{"i":2,"tau":0.995,"t":1.00032},{"i":3,"tau":0.9985,"t":1.0002},{"i":4,"tau":1,"t":1},{"i":5,"tau":0.92,"t":0.92}]},"mark":{"type":"line","color":"#a41432","strokeWidth":5.5,"clip":true},"encoding":{"order":{"field":"i"},
"x":{"field":"tau","type":"quantitative","scale":{"domain":[0.88,1.1]},"axis":{"orient":"bottom","values":[0.9,1],"format":".1f","labelPadding":47,"title":"τ₀(t)/τ","titleFontSize":68,"titleFontStyle":"italic","titleX":134,"titleY":208,"titleBaseline":"alphabetic","titleAlign":"center","zindex":1}},
"y":{"field":"t","type":"quantitative","scale":{"domain":[0.92,1.0039]},"axis":{"orient":"left","values":[0.92,0.94,0.96,0.98,1],"format":".2f","title":"t/T","titleFontStyle":"italic","titlePadding":52,"titleY":770,"zindex":1}}}},
{"data":{"values":[{"tau":1,"t":1}]},"mark":{"type":"point","filled":true,"opacity":1,"color":"black","size":660},"encoding":{
"x":{"field":"tau","type":"quantitative","scale":{"domain":[0.88,1.1]},"axis":{"orient":"top","values":[0.9,1],"labels":false,"title":null,"zindex":1}},
"y":{"field":"t","type":"quantitative","scale":{"domain":[0.92,1.0039]},"axis":{"orient":"right","values":[0.92,0.94,0.96,0.98,1],"labels":false,"title":null,"zindex":1}}}},
{"data":{"values":[{"tau":0.7605,"t":1.00055,"s":"b"}]},"mark":{"type":"text","font":"Liberation Serif","fontWeight":"bold","fontSize":95,"baseline":"alphabetic","align":"center"},"encoding":{"text":{"field":"s"}}},
{"data":{"values":[{"tau":0.9753,"t":0.9086,"s":"cr"}]},"mark":{"type":"text","font":"Liberation Serif","fontSize":38,"baseline":"alphabetic","align":"left"},"encoding":{"text":{"field":"s"}}}
],"resolve":{"axis":{"x":"independent","y":"independent"}}},
{"width":1590,"height":1524,
"encoding":{"x":{"field":"x","type":"quantitative","scale":{"domain":[0,1],"round":true},"axis":null},"x2":{"field":"x2"},"y":{"field":"t","type":"quantitative","scale":{"domain":[0.92,1.0039],"round":true},"axis":null},"color":{"field":"v","type":"quantitative","legend":null,"scale":{"interpolate":"rgb","domain":[-6,-5.237,-5.133,-3.64,-3.4,-1.558,-1.42,0.177,0.315,0.94],"range":["#00007f","#0000ff","#0000ff","#00dbff","#14ffe2","#eeff08","#ffec00","#ff1400","#e80000","#7f0000"]}}},
"layer":[
{"data":{"name":"cells"},"mark":{"type":"rect","clip":true},"encoding":{"y2":{"field":"t2"},
"x":{"field":"x","type":"quantitative","scale":{"domain":[0,1],"round":true},"axis":{"orient":"bottom","values":[0,0.2,0.4,0.6,0.8,1],"labels":false,"title":null,"zindex":1}},
"y":{"field":"t","type":"quantitative","scale":{"domain":[0.92,1.0039],"round":true},"axis":{"orient":"left","values":[0.92,0.94,0.96,0.98,1],"labels":false,"title":null,"zindex":1}}}},
{"data":{"name":"front"},"mark":{"type":"rect","clip":true},"encoding":{"y2":{"datum":1.0039}}},
{"data":{"name":"front"},"mark":{"type":"rect","clip":true},"encoding":{"y2":{"field":"b"},"color":{"value":"#ff3000"}}},
{"data":{"name":"over"},"mark":{"type":"rect","clip":true},"encoding":{"y2":{"field":"t2"},
"x":{"field":"x","type":"quantitative","scale":{"domain":[0,1],"round":true},"axis":{"orient":"top","values":[0,0.2,0.4,0.6,0.8,1],"labels":false,"title":null,"zindex":1}},
"y":{"field":"t","type":"quantitative","scale":{"domain":[0.92,1.0039],"round":true},"axis":{"orient":"right","values":[0.92,0.94,0.96,0.98,1],"labels":false,"title":null,"zindex":1}}}},
{"data":{"values":[{"x":0.7562,"t":1}]},"mark":{"type":"point","filled":true,"opacity":1,"size":660},"encoding":{"color":{"value":"black"}}}
],"resolve":{"axis":{"x":"independent","y":"independent"}}},
{"width":120,"height":1524,
"encoding":{"x":{"datum":0,"type":"quantitative","scale":{"domain":[0,1]},"axis":null},"x2":{"datum":1},"y":{"field":"l","type":"quantitative","scale":{"domain":[-8.417,3.351],"round":true},"axis":null},"y2":{"field":"h"}},
"layer":[
{"data":{"name":"cbar"},"mark":{"type":"rect"},"encoding":{"color":{"field":"l","type":"quantitative","legend":null,"scale":{"interpolate":"rgb","domain":[-6,-5.237,-5.133,-3.64,-3.4,-1.558,-1.42,0.177,0.315,0.94],"range":["#00007f","#0000ff","#0000ff","#00dbff","#14ffe2","#eeff08","#ffec00","#ff1400","#e80000","#7f0000"]}}}},
{"data":{"values":[{"l":-6,"h":0.94}]},"mark":{"type":"rect","fill":"transparent","stroke":"black","strokeWidth":4},"encoding":{
"y":{"field":"l","type":"quantitative","scale":{"domain":[-8.417,3.351],"round":true},"axis":{"orient":"right","domain":false,"zindex":1,"tickWidth":2.5,"tickSize":-15,"labelPadding":52,
"values":[-6,-5.699,-5.523,-5.398,-5.301,-5.222,-5.155,-5.097,-5.046,-5,-4.699,-4.523,-4.398,-4.301,-4.222,-4.155,-4.097,-4.046,-4,-3.699,-3.523,-3.398,-3.301,-3.222,-3.155,-3.097,-3.046,-3,-2.699,-2.523,-2.398,-2.301,-2.222,-2.155,-2.097,-2.046,-2,-1.699,-1.523,-1.398,-1.301,-1.222,-1.155,-1.097,-1.046,-1,-0.699,-0.523,-0.398,-0.301,-0.222,-0.155,-0.097,-0.046,0,0.301,0.477,0.602,0.699,0.778,0.845,0.903],
"labelExpr":"datum.value==0?'10⁰':datum.value==-1?'10⁻¹':datum.value==-2?'10⁻²':datum.value==-3?'10⁻³':datum.value==-4?'10⁻⁴':datum.value==-5?'10⁻⁵':datum.value==-6?'10⁻⁶':''",
"title":"slip rate 2∂ₜu","titleAngle":270,"titleX":230,"titleY":798,"titleAlign":"center","titleBaseline":"middle"}}}}
],"resolve":{"axis":{"y":"independent"}}},
{"width":510,"height":465,"data":{"values":[]},"mark":"point","encoding":{}},
{"width":1590,"height":465,
"encoding":{"x":{"field":"x","type":"quantitative","scale":{"domain":[0,1]},"axis":null},"y":{"field":"v","type":"quantitative","scale":{"domain":[0.6,1.697]},"axis":null}},
"layer":[
{"data":{"values":[{"x":0.7271,"v":0.8175,"v2":1.476},{"x":0.7615,"v":0.8175,"v2":1.476}]},"mark":{"type":"rule","color":"#b0b0b0","strokeWidth":3.5,"strokeDash":[16,9]},"encoding":{"y2":{"field":"v2"},
"x":{"field":"x","type":"quantitative","scale":{"domain":[0,1]},"axis":{"orient":"bottom","values":[0,0.2,0.4,0.6,0.8,1],"format":".1f","title":"x/L","titleFontStyle":"italic","titlePadding":42,"zindex":1}},
"y":{"field":"v","type":"quantitative","scale":{"domain":[0.6,1.697]},"axis":{"orient":"left","ticks":false,"labels":false,"title":null,"zindex":1}}}},
{"data":{"name":"tau"},"mark":{"type":"line","color":"#0072bd","strokeWidth":4,"interpolate":"monotone","clip":true},"encoding":{
"x":{"field":"x","type":"quantitative","scale":{"domain":[0,1]},"axis":{"orient":"top","values":[0,0.2,0.4,0.6,0.8,1],"labels":false,"title":null,"zindex":1}},
"y":{"field":"v","type":"quantitative","scale":{"domain":[0.6,1.697]},"axis":{"orient":"right","values":[0.6,1.1,1.6],"format":".1f","labelPadding":36,"title":"τₚ/<τₚ>","titleFontStyle":"italic","titleAngle":270,"titleX":174,"titleY":229,"titleAlign":"center","titleBaseline":"middle","zindex":1}}}},
{"data":{"values":[{"x":0.6918,"x2":0.72,"v":1.5},{"x":0.769,"x2":0.7967,"v":1.5}]},"mark":{"type":"rule","color":"black","strokeWidth":3},"encoding":{"x2":{"field":"x2"}}},
{"data":{"values":[{"x":0.7184,"v":1.5}]},"mark":{"type":"point","filled":true,"opacity":1,"color":"black","size":900,"shape":"M-1,-0.8L1,0L-1,0.8Z"}},
{"data":{"values":[{"x":0.7704,"v":1.5}]},"mark":{"type":"point","filled":true,"opacity":1,"color":"black","size":900,"shape":"M1,-0.8L-1,0L1,0.8Z"}},
{"data":{"values":[{"x":0.7457,"v":1.545,"s":"hₙ / L"}]},"mark":{"type":"text","font":"Liberation Serif","fontStyle":"italic","fontSize":54,"baseline":"alphabetic","align":"center"},"encoding":{"text":{"field":"s"}}},
{"data":{"values":[{"x":-0.065,"v":1.5647,"s":"c"}]},"mark":{"type":"text","font":"Liberation Serif","fontWeight":"bold","fontSize":95,"baseline":"alphabetic","align":"center"},"encoding":{"text":{"field":"s"}}}
],"resolve":{"axis":{"x":"independent","y":"independent"}}},
{"width":120,"height":465,"data":{"values":[]},"mark":"point","encoding":{}}
]}
